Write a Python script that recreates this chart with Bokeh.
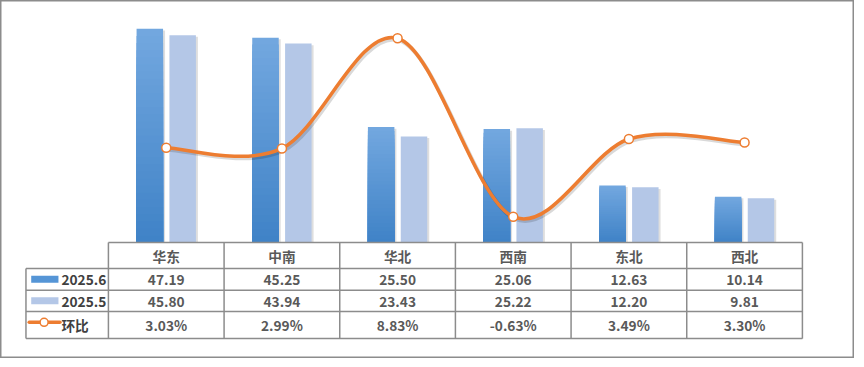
from bokeh.plotting import figure
from bokeh.models import Range1d, ColumnDataSource
from bokeh.embed import file_html
from bokeh.resources import INLINE
from bokeh.core.properties import value

# ---- data ----
regions = ["华东", "中南", "华北", "西南", "东北", "西北"]
jun = [47.19, 45.25, 25.50, 25.06, 12.63, 10.14]
may = [45.80, 43.94, 23.43, 25.22, 12.20, 9.81]
mom = [3.03, 2.99, 8.83, -0.63, 3.49, 3.30]
series_names = ["2025.6", "2025.5", "环比"]

# ---- layout (pixels) ----
W, H = 854, 358
SX = (W - 1) / 861.0
SY = (H - 1) / 365.0
PX_X = 116.75 * SX          # px per category
PX_Y = 4.63 * SY            # px per value unit
X0 = (168.3 - 1) * SX       # px of first category centre
Y0 = (248.5 - 1) * SY       # px of baseline from top

x_start = -X0 / PX_X
x_end = x_start + W / PX_X
y_end = Y0 / PX_Y
y_start = (Y0 - H) / PX_Y


def to_pct(v):
    return -2 + v * 12 / 50


def py(ref_y):
    return (Y0 - (ref_y - 1) * SY) / PX_Y


def px(ref_x):
    return ((ref_x - 1) * SX - X0) / PX_X


FONT = value("Noto Sans CJK SC")
TXT = "#595959"
GRID = "#8c8c8c"
ORANGE = "#ED7D31"
LIGHT = "#B4C7E7"
FS = "13.7px"

p = figure(width=W, height=H, x_range=Range1d(x_start, x_end),
           y_range=Range1d(y_start, y_end), output_backend="svg",
           toolbar_location=None, min_border=0,
           x_axis_location=None, y_axis_location=None,
           background_fill_color="white", border_fill_color="white",
           outline_line_color=GRID, outline_line_width=2)
p.grid.visible = False
p.extra_y_ranges = {"pct": Range1d(to_pct(y_start), to_pct(y_end))}

xs = list(range(len(regions)))
OFF = 0.142
BW = 0.229

# bar shadows
sx = 2 / PX_X
p.quad(left=[x - OFF - BW / 2 + sx for x in xs], right=[x - OFF + BW / 2 + sx for x in xs],
       bottom=0, top=[v - 0.35 for v in jun], fill_color="black", fill_alpha=0.13, line_color=None)
p.quad(left=[x + OFF - BW / 2 + sx for x in xs], right=[x + OFF + BW / 2 + sx for x in xs],
       bottom=0, top=[v - 0.35 for v in may], fill_color="black", fill_alpha=0.13, line_color=None)

# gradient bars for 2025.6
top_c = (114, 167, 223)
bot_c = (64, 131, 199)
N = 30
gl, gr, gt, gc = [], [], [], []
for k in range(N):
    f = k / (N - 1)
    c = tuple(round(top_c[j] + (bot_c[j] - top_c[j]) * f) for j in range(3))
    col = "#%02x%02x%02x" % c
    for x, v in zip(xs, jun):
        gl.append(x - OFF - BW / 2)
        gr.append(x - OFF + BW / 2)
        gt.append(v * (1 - k / N))
        gc.append(col)
p.quad(left=gl, right=gr, bottom=0, top=gt, fill_color=gc, line_color=None)

# 2025.5 bars
p.quad(left=[x + OFF - BW / 2 for x in xs], right=[x + OFF + BW / 2 for x in xs],
       bottom=0, top=may, fill_color=LIGHT, line_color=None)

# smoothed line (Catmull-Rom -> Bezier)
n = len(mom)
seg = dict(x0=[], y0=[], x1=[], y1=[], cx0=[], cy0=[], cx1=[], cy1=[])
for i in range(n - 1):
    a = max(i - 1, 0)
    d = min(i + 2, n - 1)
    seg["x0"].append(xs[i]); seg["y0"].append(mom[i])
    seg["x1"].append(xs[i + 1]); seg["y1"].append(mom[i + 1])
    seg["cx0"].append(xs[i] + (xs[i + 1] - xs[a]) / 6)
    seg["cy0"].append(mom[i] + (mom[i + 1] - mom[a]) / 6)
    seg["cx1"].append(xs[i + 1] - (xs[d] - xs[i]) / 6)
    seg["cy1"].append(mom[i + 1] - (mom[d] - mom[i]) / 6)

dxs = 1.5 / PX_X
dys = -2.0 * 12 / 50 / PX_Y
shadow = {k: [vv + (dxs if k.startswith(("x", "cx")) else dys) for vv in vals] for k, vals in seg.items()}
p.bezier(source=ColumnDataSource(shadow), x0="x0", y0="y0", x1="x1", y1="y1",
         cx0="cx0", cy0="cy0", cx1="cx1", cy1="cy1", line_color="black", line_alpha=0.15,
         line_width=4, y_range_name="pct")
p.bezier(source=ColumnDataSource(seg), x0="x0", y0="y0", x1="x1", y1="y1",
         cx0="cx0", cy0="cy0", cx1="cx1", cy1="cy1", line_color=ORANGE,
         line_width=3.5, line_cap="round", y_range_name="pct")
p.scatter(x=xs, y=mom, size=9, marker="circle", fill_color="white",
          line_color=ORANGE, line_width=1.5, y_range_name="pct")

# ---- data table ----
t_top = 0
r1, r2, r3, t_bot = py(275), py(297.3), py(319), py(346.7)
t_left = px(26.7)
x_lo, x_hi = -0.5, len(regions) - 0.5

hx0 = [x_lo, t_left, t_left, t_left, t_left]
hx1 = [x_hi] * 5
hy = [t_top, r1, r2, r3, t_bot]
vx = [x_lo + i for i in range(len(regions) + 1)] + [t_left]
vy0 = [t_top] * (len(regions) + 1) + [r1]
vy1 = [t_bot] * (len(regions) + 2)
p.segment(x0=hx0, y0=hy, x1=hx1, y1=hy, line_color=GRID, line_width=1.5)
p.segment(x0=vx, y0=vy0, x1=vx, y1=vy1, line_color=GRID, line_width=1.5)

tkw = dict(text_align="center", text_baseline="middle", text_font=FONT,
           text_font_style="bold", text_font_size=FS, text_color=TXT)
p.text(x=xs, y=[py(262)] * n, text=regions, **tkw)
p.text(x=xs, y=[py(286.5)] * n, text=[f"{v:.2f}" for v in jun], **tkw)
p.text(x=xs, y=[py(308.5)] * n, text=[f"{v:.2f}" for v in may], **tkw)
p.text(x=xs, y=[py(333)] * n, text=[f"{v:.2f}%" for v in mom], **tkw)

# legend keys in table
p.quad(left=[px(32)], right=[px(59.5)], bottom=[py(289.5)], top=[py(282.5)],
       fill_color="#5595d6", line_color=None)
p.quad(left=[px(32)], right=[px(59.5)], bottom=[py(311.5)], top=[py(304.5)],
       fill_color=LIGHT, line_color=None)
p.segment(x0=[px(30)], y0=[py(330)], x1=[px(61)], y1=[py(330)], line_color=ORANGE,
          line_width=3.5, line_cap="round")
p.scatter(x=[px(45)], y=[py(330)], size=8, marker="circle", fill_color="white",
          line_color=ORANGE, line_width=1.5)
lkw = dict(text_align="left", text_baseline="middle", text_font=FONT,
           text_font_style="bold", text_font_size=FS, text_color="#404040")
p.text(x=[px(62.5)] * 3, y=[py(286.5), py(308.5), py(333)], text=series_names, **lkw)

open("out.html", "w").write(file_html(p, INLINE))
